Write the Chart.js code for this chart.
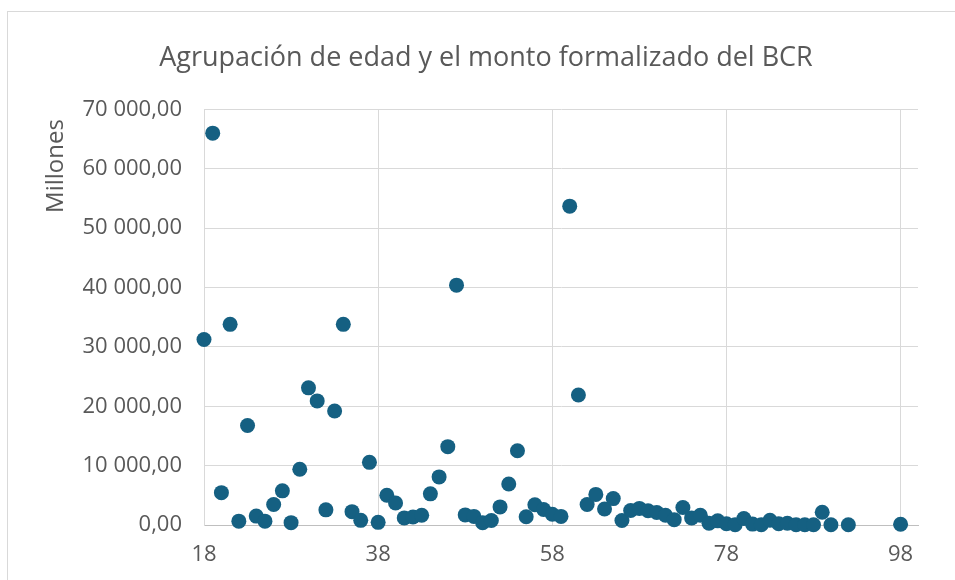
<!DOCTYPE html>
<html lang="es">
<head>
<meta charset="utf-8">
<title>Agrupación de edad y el monto formalizado del BCR</title>
<script src="https://cdn.jsdelivr.net/npm/chart.js@4.4.1/dist/chart.umd.min.js"></script>
<style>
    html, body { margin: 0; padding: 0; background: #fff; overflow: hidden; }
    #frame { position: absolute; left: 7px; top: 11px; width: 960px; height: 600px; border: 1px solid #d9d9d9; }
    #wrap { position: absolute; left: 0; top: 0; width: 955px; height: 580px; }
</style>
</head>
<body>
<div id="frame"></div>
<div id="wrap"><canvas id="age-chart"></canvas></div>
<script>
// Edad del cliente (años) y monto formalizado (millones de colones)
const ages = [
    18, 19, 20, 21, 22, 23, 24, 25, 26, 27,
    28, 29, 30, 31, 32, 33, 34, 35, 36, 37,
    38, 39, 40, 41, 42, 43, 44, 45, 46, 47,
    48, 49, 50, 51, 52, 53, 54, 55, 56, 57,
    58, 59, 60, 61, 62, 63, 64, 65, 66, 67,
    68, 69, 70, 71, 72, 73, 74, 75, 76, 77,
    78, 79, 80, 81, 82, 83, 84, 85, 86, 87,
    88, 89, 90, 92, 98,
];
const amounts = [
    31250, 66000, 5450, 33800, 650, 16750, 1500, 650, 3450, 5750,
    400, 9400, 23100, 20900, 2550, 19200, 33800, 2250, 780, 10550,
    450, 5000, 3700, 1200, 1350, 1650, 5250, 8100, 13200, 40400,
    1700, 1450, 400, 750, 3050, 6900, 12500, 1400, 3400, 2600,
    1800, 1450, 53700, 21900, 3450, 5150, 2700, 4450, 750, 2450,
    2800, 2400, 2100, 1650, 900, 2950, 1200, 1650, 300, 700,
    200, 50, 1100, 150, 50, 800, 200, 300, 50, 50,
    50, 2150, 50, 50, 120,
];
const xTicks = [18, 38, 58, 78, 98];
const yTicks = [0, 10000, 20000, 30000, 40000, 50000, 60000, 70000];
const unitLabel = 'Millones';

const textColor = '#595959';
const gridColor = '#d9d9d9';
const axisColor = '#bfbfbf';
const pointColor = '#156082';
const fontFamily = '"Open Sans", "Noto Sans", sans-serif';

const formatAmount = (v) => v.toFixed(2).replace('.', ',').replace(/\B(?=(\d{3})+(?!\d))/g, ' ');

// etiqueta de unidades, arriba a la izquierda como en Excel
const unitLabelPlugin = {
    id: 'unitLabel',
    afterDraw: (chart) => {
        const { ctx } = chart;
        ctx.save();
        ctx.translate(56, 166);
        ctx.rotate(-Math.PI / 2);
        ctx.font = `24px ${fontFamily}`;
        ctx.fillStyle = textColor;
        ctx.textAlign = 'center';
        ctx.textBaseline = 'middle';
        ctx.fillText(unitLabel, 0, 0);
        ctx.restore();
    },
};

const buildChart = (ctxId) => {
    const ctx = document.getElementById(ctxId);
    if (!ctx || typeof Chart === 'undefined') return null;
    Chart.defaults.font.family = fontFamily;
    Chart.defaults.color = textColor;
    return new Chart(ctx, {
        type: 'scatter',
        data: {
            datasets: [{
                label: 'Monto formalizado',
                data: ages.map((age, i) => ({ x: age, y: amounts[i] })),
                backgroundColor: pointColor,
                borderColor: pointColor,
                borderWidth: 0,
                pointRadius: 7.5,
                pointHoverRadius: 7.5,
                clip: false,
            }],
        },
        options: {
            responsive: true,
            maintainAspectRatio: false,
            animation: false,
            events: [],
            layout: { padding: { left: 54, right: 37, top: 0, bottom: 0 } },
            plugins: {
                legend: { display: false },
                tooltip: { enabled: false },
                title: {
                    display: true,
                    text: 'Agrupación de edad y el monto formalizado del BCR',
                    color: textColor,
                    font: { size: 27, weight: 'normal' },
                    padding: { top: 42, bottom: 35 },
                },
            },
            scales: {
                x: {
                    type: 'linear',
                    min: 18,
                    max: 100,
                    afterBuildTicks: (scale) => { scale.ticks = xTicks.map((value) => ({ value })); },
                    afterFit: (scale) => { scale.height = 55; },
                    ticks: { color: textColor, font: { size: 22 }, padding: 17 },
                    grid: { color: gridColor, drawTicks: false },
                    border: { color: axisColor, width: 1 },
                },
                y: {
                    min: 0,
                    max: 70000,
                    afterBuildTicks: (scale) => { scale.ticks = yTicks.map((value) => ({ value })); },
                    afterFit: (scale) => { scale.width = 150; },
                    ticks: { color: textColor, font: { size: 22 }, padding: 22, callback: (v) => formatAmount(v) },
                    grid: {
                        color: (c) => (c.tick && c.tick.value === 0 ? axisColor : gridColor),
                        drawTicks: false,
                    },
                    border: { color: gridColor, width: 1 },
                },
            },
        },
        plugins: [unitLabelPlugin],
    });
};

buildChart('age-chart');
</script>
</body>
</html>
